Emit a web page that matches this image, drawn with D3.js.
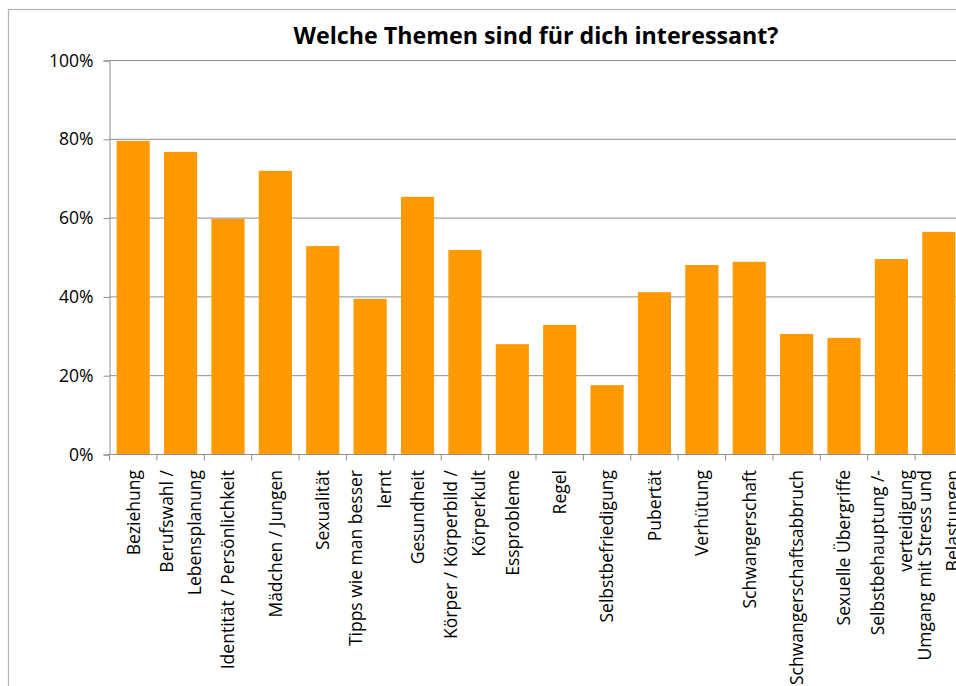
<!DOCTYPE html>
<html>
<head>
<meta charset="utf-8">
<script src="https://cdn.jsdelivr.net/npm/d3@7"></script>
<style>
  html, body { margin: 0; padding: 0; background: #fff; overflow: hidden; }
  svg { display: block; font-family: "Open Sans", "DejaVu Sans", sans-serif; }
</style>
</head>
<body>
<svg id="chart" width="956" height="686"></svg>
<script>
// ---- data ----
const title = "Welche Themen sind für dich interessant?";
const categories = [
  "Beziehung",
  "Berufswahl /\nLebensplanung",
  "Identität / Persönlichkeit",
  "Mädchen / Jungen",
  "Sexualität",
  "Tipps wie man besser\nlernt",
  "Gesundheit",
  "Körper / Körperbild /\nKörperkult",
  "Essprobleme",
  "Regel",
  "Selbstbefriedigung",
  "Pubertät",
  "Verhütung",
  "Schwangerschaft",
  "Schwangerschaftsabbruch",
  "Sexuelle Übergriffe",
  "Selbstbehauptung /-\nverteidigung",
  "Umgang mit Stress und\nBelastungen"
];
const values = [0.796, 0.768, 0.598, 0.720, 0.529, 0.395, 0.654, 0.519, 0.280, 0.329,
                0.176, 0.412, 0.481, 0.489, 0.306, 0.296, 0.496, 0.565];
const yTicks = [0, 0.2, 0.4, 0.6, 0.8, 1.0];

// ---- layout ----
const svg = d3.select("#chart");
const plot = { left: 109.5, right: 962.5, top: 60.5, bottom: 454.5 };
const barColor = "#ff9900";
const gridColor = "#8e8e8e";
const labelSize = "17.5px";

// outer chart frame
svg.append("rect")
  .attr("x", 8.5).attr("y", 9.5)
  .attr("width", 1200).attr("height", 1200)
  .attr("fill", "none").attr("stroke", "#b4b4b4").attr("stroke-width", 1.2);

const x = d3.scaleBand().domain(categories).range([plot.left, plot.right])
  .paddingInner(0.3).paddingOuter(0.15);
const y = d3.scaleLinear().domain([0, 1]).range([plot.bottom, plot.top]);

// gridlines
svg.append("g").selectAll("line").data(yTicks.filter(d => d > 0)).join("line")
  .attr("x1", plot.left).attr("x2", 1000)
  .attr("y1", d => y(d)).attr("y2", d => y(d))
  .attr("stroke", gridColor).attr("stroke-width", 1);

// bars
svg.append("g").selectAll("rect").data(categories).join("rect")
  .attr("x", d => x(d))
  .attr("width", x.bandwidth())
  .attr("y", (d, i) => y(values[i]))
  .attr("height", (d, i) => y(0) - y(values[i]))
  .attr("fill", barColor);

// y axis
const yAxis = d3.axisLeft(y).tickValues(yTicks)
  .tickFormat(d => Math.round(d * 100) + "%")
  .tickSize(6).tickPadding(10);
const gy = svg.append("g").attr("transform", `translate(${plot.left},0)`).call(yAxis);
gy.select(".domain").attr("stroke", gridColor);
gy.selectAll(".tick line").attr("stroke", gridColor);
gy.selectAll(".tick text").attr("fill", "#000")
  .style("font-family", "'Open Sans', sans-serif").style("font-size", labelSize);

// x axis line
svg.append("line")
  .attr("x1", plot.left).attr("x2", 1000)
  .attr("y1", plot.bottom).attr("y2", plot.bottom)
  .attr("stroke", gridColor);

// x ticks at band boundaries
const step = x.step();
const boundaries = d3.range(categories.length + 1).map(i => plot.left + i * step);
svg.append("g").selectAll("line").data(boundaries).join("line")
  .attr("x1", d => d).attr("x2", d => d)
  .attr("y1", plot.bottom).attr("y2", plot.bottom + 6)
  .attr("stroke", gridColor);

// x labels (rotated, wrapped)
const lineGap = 28.4;
const lab = svg.append("g");
categories.forEach((c, i) => {
  const lines = c.split("\n");
  const cx = x(c) + x.bandwidth() / 2;
  lines.forEach((ln, j) => {
    const off = (j - (lines.length - 1) / 2) * lineGap;
    lab.append("text")
      .attr("transform", `translate(${cx + off},470) rotate(-90)`)
      .attr("text-anchor", "end")
      .attr("dy", "0.36em")
      .attr("fill", "#000")
      .style("font-size", labelSize)
      .text(ln);
  });
});

// title
const t = svg.append("text")
  .attr("x", (plot.left + plot.right) / 2)
  .attr("y", 44)
  .attr("text-anchor", "middle")
  .attr("fill", "#000")
  .style("font-weight", "bold")
  .style("font-size", "22px")
  .text(title);
const targetW = 485;
const w = t.node().getComputedTextLength();
if (w > 0) t.style("font-size", (22 * targetW / w).toFixed(2) + "px");
</script>
</body>
</html>
